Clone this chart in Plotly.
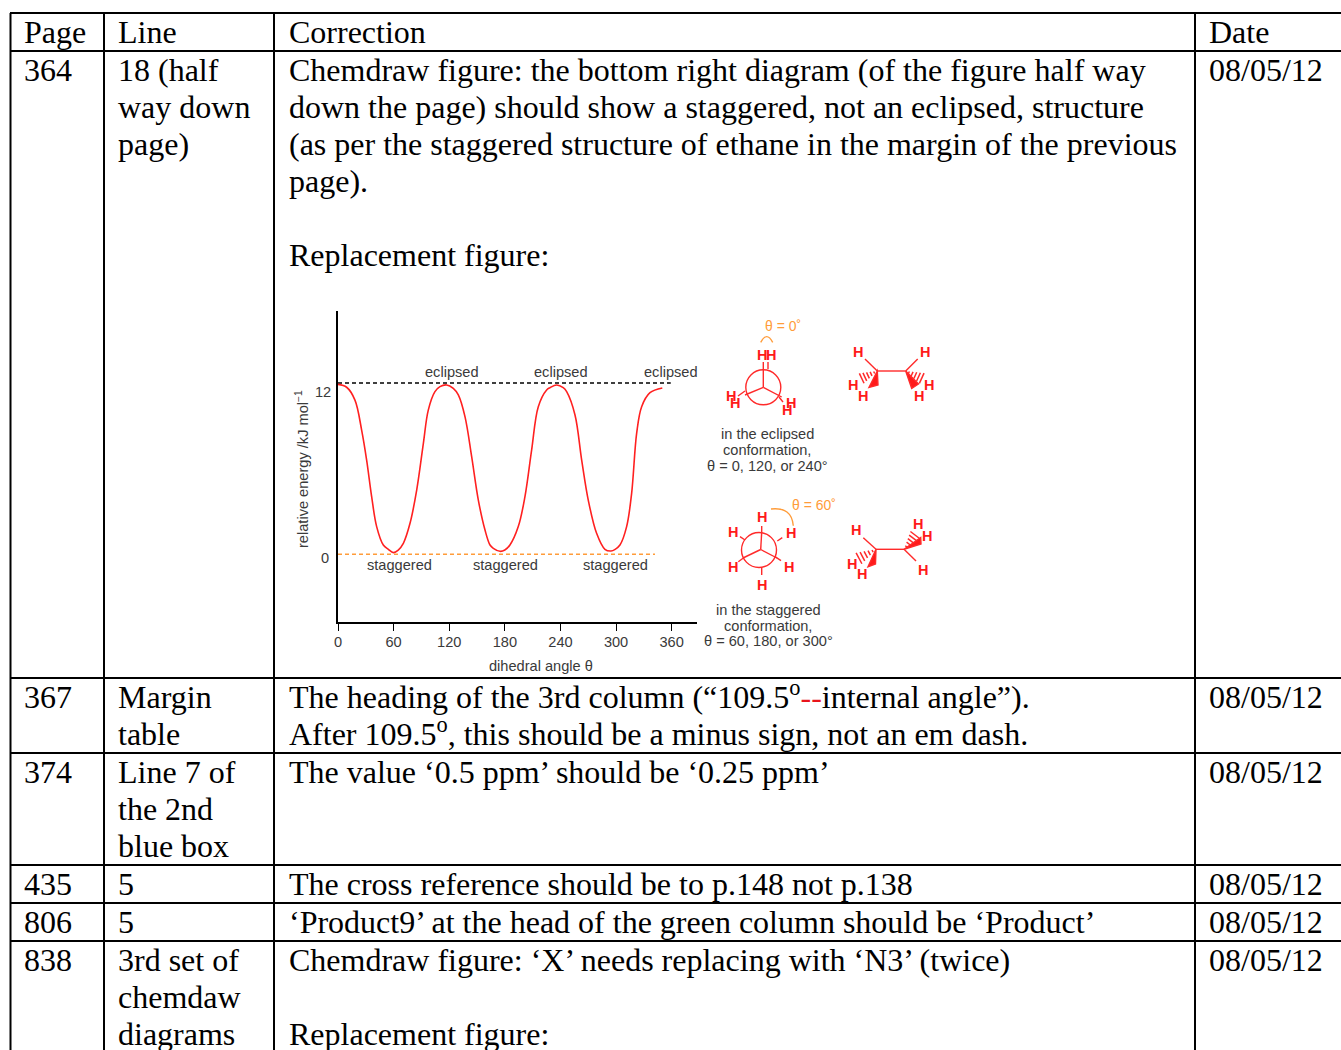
import plotly.graph_objects as go

# table text, one entry per row, blank string = empty line
HEADERS = ['Page', 'Line', 'Correction', 'Date']
PAGES = ['364', '367', '374', '435', '806', '838']
LINES = [
    ['18 (half', 'way down', 'page)'],
    ['Margin', 'table'],
    ['Line 7 of', 'the 2nd', 'blue box'],
    ['5'],
    ['5'],
    ['3rd set of', 'chemdaw', 'diagrams'],
]
CORRECTIONS = [
    ['Chemdraw figure: the bottom right diagram (of the figure half way',
     'down the page) should show a staggered, not an eclipsed, structure',
     '(as per the staggered structure of ethane in the margin of the previous',
     'page).', '', 'Replacement figure:'],
    ['The heading of the 3rd column (“109.5<sup>o</sup><span style="color:#e8141c">--</span>internal angle”).',
     'After 109.5<sup>o</sup>, this should be a minus sign, not an em dash.'],
    ['The value ‘0.5 ppm’ should be ‘0.25 ppm’'],
    ['The cross reference should be to p.148 not p.138'],
    ['‘Product9’ at the head of the green column should be ‘Product’'],
    ['Chemdraw figure: ‘X’ needs replacing with ‘N3’ (twice)', '', 'Replacement figure:'],
]
DATES = ['08/05/12'] * 6

# energy curve
ANGLE = [0, 9.3, 18.3, 25.5, 30.9, 36.3, 41.7, 48.9, 54.3, 59.7, 65, 70.5, 77.7, 84.9, 92.1, 97.4,
         104.6, 110, 117.2, 124.4, 129.8, 137, 144.2, 151.4, 158.6, 164, 167.6, 174.8, 180, 185.5,
         194.5, 201.7, 208.9, 216.1, 225.1, 228.7, 235.9, 243, 246.7, 255.7, 262.9, 270, 279, 288,
         294.5, 299, 304.2, 311.4, 316.8, 322.2, 327.6, 336.6, 349.9]
ENERGY = [11.9, 11.7, 10.8, 8.7, 6.6, 4.04, 1.94, 0.65, 0.35, 0.12, 0.3, 0.77, 2.17, 4.5, 7.77, 10.1,
          11.39, 11.74, 11.86, 11.62, 11.16, 9.64, 6.84, 3.8, 1.7, 0.65, 0.42, 0.21, 0.3, 0.65,
          1.94, 4.04, 7.3, 10.34, 11.51, 11.67, 11.86, 11.67, 11.39, 9.76, 6.6, 3.8, 1.47, 0.35,
          0.23, 0.35, 0.65, 1.94, 4.27, 8.47, 10.34, 11.32, 11.65]
ECLIPSED_X = [0, 359]
ECLIPSED_Y = [12, 12]
STAGGERED_X = [0, 342]
STAGGERED_Y = [0, 0]
X_TICKS = [0, 60, 120, 180, 240, 300, 360]
Y_TICKS = [0, 12]

W, H = 1341, 1050
RED = '#ff2a2a'
ORANGE = '#ff9c3a'
GREY = '#3a3a3a'
SERIF = 'Liberation Serif'
SANS = 'Liberation Sans'

shapes = []
notes = []


def text(x, y, s, size=32, color='black', family=SERIF, anchor='left', bold=False, angle=0):
    notes.append(dict(x=x, y=y, xref='x2', yref='y2', text='<b>%s</b>' % s if bold else s,
                      showarrow=False, xanchor=anchor, yanchor='middle', textangle=angle,
                      borderpad=0, font=dict(family=family, size=size, color=color)))


def seg(x0, y0, x1, y1, color=RED, width=1.4):
    shapes.append(dict(type='line', xref='x2', yref='y2', x0=x0, y0=y0, x1=x1, y1=y1,
                       line=dict(color=color, width=width)))


def path(d, color=RED, fill=None, width=1.4):
    shapes.append(dict(type='path', xref='x2', yref='y2', path=d, fillcolor=fill,
                       line=dict(color=color, width=width)))


def circle(cx, cy, r):
    shapes.append(dict(type='circle', xref='x2', yref='y2', x0=cx - r, y0=cy - r, x1=cx + r, y1=cy + r,
                       line=dict(color=RED, width=1.4)))


def hs(points):
    for x, y in points:
        text(x, y, 'H', size=14.5, color='#ff1a1a', family=SANS, anchor='center', bold=True)


def hash_wedge(x0, y0, x1, y1):
    # hashed bond, strokes get wider away from the carbon
    dx, dy = x1 - x0, y1 - y0
    for i in range(1, 6):
        t = i / 5
        half = 0.32 * t
        cx, cy = x0 + dx * t, y0 + dy * t
        seg(cx + dy * half, cy - dx * half, cx - dy * half, cy + dx * half, width=1.5)


# table rules
COL_X = [10.5, 104, 274, 1195]
ROW_Y = [13, 51, 678, 753, 865, 903, 941]
for x in COL_X:
    seg(x, 13, x, 1050, color='black', width=2)
for y in ROW_Y:
    seg(10, y, W, y, color='black', width=2)

# table text
TEXT_X = [22.8, 117.2, 287.8, 1207.8]
PITCH = 37
for x, s in zip(TEXT_X, HEADERS):
    text(x, 31.5, s)
for i, top in enumerate(ROW_Y[1:]):
    first = top + 18.5
    text(TEXT_X[0], first, PAGES[i])
    text(TEXT_X[3], first, DATES[i])
    for n, s in enumerate(LINES[i]):
        text(TEXT_X[1], first + n * PITCH, s)
    for n, s in enumerate(CORRECTIONS[i]):
        if s:
            # superscripts make the text box taller, so pull those lines back up
            shift = 2 if '<sup>' in s else 0
            text(TEXT_X[2], first + n * PITCH - shift, s)

# embedded figure labels
for x in [451.7, 561, 670.7]:
    text(x, 372, 'eclipsed', 14.6, GREY, SANS, 'center')
for x in [399, 505.7, 615]:
    text(x, 564.6, 'staggered', 14.6, GREY, SANS, 'center')
text(541, 666, 'dihedral angle θ', 14.6, GREY, SANS, 'center')
text(302, 469, 'relative energy /kJ mol<sup>−1</sup>', 14.6, GREY, SANS, 'center', angle=-90)
text(323, 392, str(Y_TICKS[1]), 14.6, GREY, SANS, 'center')
text(325, 558, str(Y_TICKS[0]), 14.6, GREY, SANS, 'center')

# eclipsed Newman projection
circle(763.3, 387.3, 17.5)
seg(763.3, 387.3, 763.3, 362)
seg(763.3, 387.3, 745, 395)
seg(763.3, 387.3, 781.7, 397)
seg(768, 369, 768, 362)
seg(745, 391, 738, 396)
seg(779, 397, 783, 402)
hs([(761.7, 355), (771, 355), (730.7, 396), (735, 403.3), (790.7, 402.7), (786.7, 410)])
path('M 760.7,342.3 Q 766.7,331 772.7,342.3', color=ORANGE)
text(782.7, 325.7, 'θ = 0˚', 14, ORANGE, SANS, 'center')
text(767, 434.3, 'in the eclipsed', 14.6, GREY, SANS, 'center')
text(767, 450, 'conformation,', 14.6, GREY, SANS, 'center')
text(767, 465.7, 'θ = 0, 120, or 240°', 14.6, GREY, SANS, 'center')

# eclipsed ethane
seg(877.3, 371, 905.7, 371)
seg(877.3, 371, 865, 359)
seg(905.7, 371, 917.7, 359)
path('M 877.3,371 L 869,387.5 L 878,385 Z', fill='#ff1a1a')
path('M 905.7,371 L 911.7,388.5 L 918.5,384 Z', fill='#ff1a1a')
hash_wedge(877.3, 371, 861.7, 378.3)
hash_wedge(905.7, 371, 921.7, 378.3)
hs([(857.7, 351.7), (925, 351.7), (853.3, 385), (863.3, 396), (929.3, 385), (919, 396)])

# staggered Newman projection
circle(759, 550, 17.5)
seg(760.7, 549.5, 761.7, 532)
seg(760.7, 549.5, 743, 558)
seg(760.7, 549.5, 777, 558)
seg(761.7, 526, 761.7, 532)
seg(740, 536.7, 745, 540)
seg(777.3, 541, 782.3, 537.7)
seg(775, 556.7, 781, 560.7)
seg(761.7, 567.3, 761.7, 575)
seg(743, 558.3, 738.3, 561.7)
hs([(761.7, 517.3), (732.7, 532.3), (790.7, 533.3), (733.3, 566.7), (789.3, 566.7), (761.7, 585)])
path('M 771,509 Q 791.7,506.7 793.3,525.7', color=ORANGE)
text(814.3, 505, 'θ = 60˚', 14, ORANGE, SANS, 'center')
text(768.3, 610, 'in the staggered', 14.6, GREY, SANS, 'center')
text(768.3, 626, 'conformation,', 14.6, GREY, SANS, 'center')
text(768.3, 641, 'θ = 60, 180, or 300°', 14.6, GREY, SANS, 'center')

# staggered ethane
seg(876, 549.3, 904, 549.3)
seg(876, 549.3, 863.3, 537.7)
seg(904, 549.3, 916, 561)
path('M 876,549.3 L 868,566.7 L 875.5,564 Z', fill='#ff1a1a')
path('M 904,549.3 L 920.7,537.5 L 921,544 Z', fill='#ff1a1a')
hash_wedge(876, 549.3, 859, 558.3)
hash_wedge(904, 549.3, 915, 535)
hs([(855.7, 530), (917.7, 524.3), (927.3, 535.7), (923, 570), (851.7, 564), (861.7, 574.3)])

data = [
    go.Scatter(x=ECLIPSED_X, y=ECLIPSED_Y, mode='lines',
               line=dict(color='black', width=1.4, dash='4px,3px')),
    go.Scatter(x=STAGGERED_X, y=STAGGERED_Y, mode='lines',
               line=dict(color=ORANGE, width=1.6, dash='4px,3px')),
    go.Scatter(x=ANGLE, y=ENERGY, mode='lines',
               line=dict(color='#ff2020', width=1.6, shape='spline', smoothing=1.0)),
]

layout = go.Layout(
    width=W, height=H, margin=dict(l=0, r=0, t=0, b=0, pad=0, autoexpand=False), showlegend=False,
    paper_bgcolor='white', plot_bgcolor='rgba(0,0,0,0)',
    xaxis=dict(domain=[338 / W, 696.7 / W], range=[0, 387], tickvals=X_TICKS, showgrid=False,
               zeroline=False, showline=True, linecolor='black', linewidth=1.5,
               ticks='outside', ticklen=8, tickcolor='black', tickwidth=1, ticklabelstandoff=-2,
               tickfont=dict(family=SANS, size=14.6, color=GREY)),
    yaxis=dict(domain=[(H - 621.7) / H, (H - 311) / H], range=[-4.72, 17.04], tickvals=Y_TICKS,
               showgrid=False, zeroline=False, showline=True, linecolor='black', linewidth=1.5,
               ticks='', showticklabels=False),
    # full page axes in pixels, for the table and the drawn structures
    xaxis2=dict(domain=[0, 1], range=[0, W], visible=False, anchor='y2', fixedrange=True),
    yaxis2=dict(domain=[0, 1], range=[H, 0], visible=False, anchor='x2', fixedrange=True),
    shapes=shapes, annotations=notes,
)

fig = go.Figure(data=data, layout=layout)
fig.write_html('out.html', config=dict(displayModeBar=False),
               post_script="document.body.style.margin='0';document.body.style.overflow='hidden';")
